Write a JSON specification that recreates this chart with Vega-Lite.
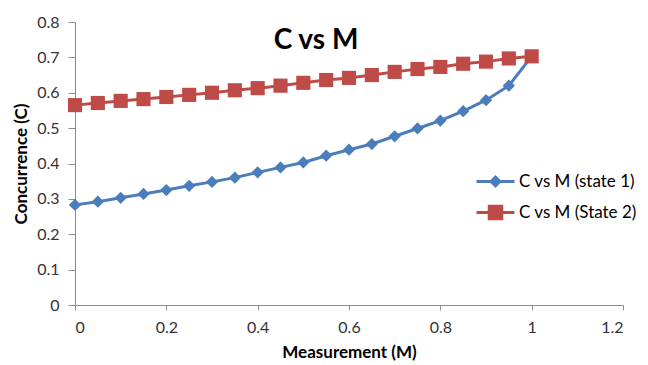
{
  "$schema": "https://vega.github.io/schema/vega-lite/v6.json",
  "autosize": "none",
  "width": 548,
  "height": 283,
  "padding": {"left": 75, "top": 22, "right": 25, "bottom": 60},
  "background": "white",
  "title": {"text": "C vs M", "fontSize": 28, "font": "Lato", "fontWeight": "bold", "color": "#000000", "anchor": "middle", "dx": -33, "dy": 5, "offset": -50, "baseline": "middle"},
  "config": {"view": {"stroke": null}, "font": "Lato"},
  "data": {"values": [
    {"M": 0.00, "C": 0.283, "series": "C vs M (state 1)"},
    {"M": 0.05, "C": 0.292, "series": "C vs M (state 1)"},
    {"M": 0.10, "C": 0.303, "series": "C vs M (state 1)"},
    {"M": 0.15, "C": 0.314, "series": "C vs M (state 1)"},
    {"M": 0.20, "C": 0.325, "series": "C vs M (state 1)"},
    {"M": 0.25, "C": 0.337, "series": "C vs M (state 1)"},
    {"M": 0.30, "C": 0.348, "series": "C vs M (state 1)"},
    {"M": 0.35, "C": 0.360, "series": "C vs M (state 1)"},
    {"M": 0.40, "C": 0.375, "series": "C vs M (state 1)"},
    {"M": 0.45, "C": 0.389, "series": "C vs M (state 1)"},
    {"M": 0.50, "C": 0.403, "series": "C vs M (state 1)"},
    {"M": 0.55, "C": 0.422, "series": "C vs M (state 1)"},
    {"M": 0.60, "C": 0.439, "series": "C vs M (state 1)"},
    {"M": 0.65, "C": 0.455, "series": "C vs M (state 1)"},
    {"M": 0.70, "C": 0.477, "series": "C vs M (state 1)"},
    {"M": 0.75, "C": 0.499, "series": "C vs M (state 1)"},
    {"M": 0.80, "C": 0.521, "series": "C vs M (state 1)"},
    {"M": 0.85, "C": 0.548, "series": "C vs M (state 1)"},
    {"M": 0.90, "C": 0.579, "series": "C vs M (state 1)"},
    {"M": 0.95, "C": 0.620, "series": "C vs M (state 1)"},
    {"M": 1.00, "C": 0.703, "series": "C vs M (state 1)"},
    {"M": 0.00, "C": 0.565, "series": "C vs M (State 2)"},
    {"M": 0.05, "C": 0.571, "series": "C vs M (State 2)"},
    {"M": 0.10, "C": 0.577, "series": "C vs M (State 2)"},
    {"M": 0.15, "C": 0.582, "series": "C vs M (State 2)"},
    {"M": 0.20, "C": 0.588, "series": "C vs M (State 2)"},
    {"M": 0.25, "C": 0.594, "series": "C vs M (State 2)"},
    {"M": 0.30, "C": 0.600, "series": "C vs M (State 2)"},
    {"M": 0.35, "C": 0.607, "series": "C vs M (State 2)"},
    {"M": 0.40, "C": 0.613, "series": "C vs M (State 2)"},
    {"M": 0.45, "C": 0.620, "series": "C vs M (State 2)"},
    {"M": 0.50, "C": 0.628, "series": "C vs M (State 2)"},
    {"M": 0.55, "C": 0.636, "series": "C vs M (State 2)"},
    {"M": 0.60, "C": 0.642, "series": "C vs M (State 2)"},
    {"M": 0.65, "C": 0.650, "series": "C vs M (State 2)"},
    {"M": 0.70, "C": 0.659, "series": "C vs M (State 2)"},
    {"M": 0.75, "C": 0.667, "series": "C vs M (State 2)"},
    {"M": 0.80, "C": 0.673, "series": "C vs M (State 2)"},
    {"M": 0.85, "C": 0.682, "series": "C vs M (State 2)"},
    {"M": 0.90, "C": 0.688, "series": "C vs M (State 2)"},
    {"M": 0.95, "C": 0.697, "series": "C vs M (State 2)"},
    {"M": 1.00, "C": 0.703, "series": "C vs M (State 2)"}
  ]},
  "encoding": {
    "x": {"field": "M", "type": "quantitative", "scale": {"domain": [0, 1.2], "nice": false},
      "axis": {"title": "Measurement (M)", "values": [0, 0.2, 0.4, 0.6, 0.8, 1, 1.2], "grid": false,
        "domainColor": "#8c8c8c", "tickColor": "#8c8c8c", "tickSize": 5, "labelFontSize": 16, "labelColor": "#333333",
        "labelPadding": 9, "titleFontSize": 17, "titleFontWeight": "bold", "titleColor": "#000000", "titlePadding": 9,
        "labelExpr": "format(datum.value, '')"}},
    "y": {"field": "C", "type": "quantitative", "scale": {"domain": [0, 0.8], "nice": false},
      "axis": {"title": "Concurrence (C)", "values": [0, 0.1, 0.2, 0.3, 0.4, 0.5, 0.6, 0.7, 0.8], "grid": false,
        "domainColor": "#8c8c8c", "tickColor": "#8c8c8c", "tickSize": 7, "labelFontSize": 16, "labelColor": "#333333",
        "labelPadding": 9, "titleFontSize": 17, "titleFontWeight": "bold", "titleColor": "#000000", "titlePadding": 6,
        "labelExpr": "format(datum.value, '')"}}
  },
  "layer": [
    {"mark": {"type": "line", "strokeWidth": 3},
      "encoding": {"color": {"field": "series", "type": "nominal",
        "scale": {"domain": ["C vs M (state 1)", "C vs M (State 2)"], "range": ["#4a7ebb", "#be4b48"]},
        "legend": {"title": null, "orient": "none", "legendX": 400, "legendY": 139, "labelFontSize": 17, "labelColor": "#000000",
            "symbolSize": 1444, "rowPadding": -6, "labelOffset": 3, "symbolOpacity": 1, "padding": 0,
            "encode": {"symbols": {"update": {
              "shape": {"signal": "datum.value === 'C vs M (state 1)' ? 'M-1,0H1M0,-0.23L0.23,0L0,0.23L-0.23,0Z' : 'M-1,0H1M-0.33,-0.33H0.33V0.33H-0.33Z'"},
              "strokeWidth": {"value": 3},
              "stroke": {"signal": "datum.value === 'C vs M (state 1)' ? '#4a7ebb' : '#be4b48'"},
              "fill": {"signal": "datum.value === 'C vs M (state 1)' ? '#4a7ebb' : '#be4b48'"}
            }}}}}}},
    {"mark": {"type": "point", "filled": true, "opacity": 1},
      "encoding": {
        "color": {"field": "series", "type": "nominal", "legend": null},
        "shape": {"condition": {"test": "datum.series === 'C vs M (state 1)'", "value": "diamond"}, "value": "square"},
        "size": {"condition": {"test": "datum.series === 'C vs M (state 1)'", "value": 150}, "value": 200}
      }
    }
  ]
}
